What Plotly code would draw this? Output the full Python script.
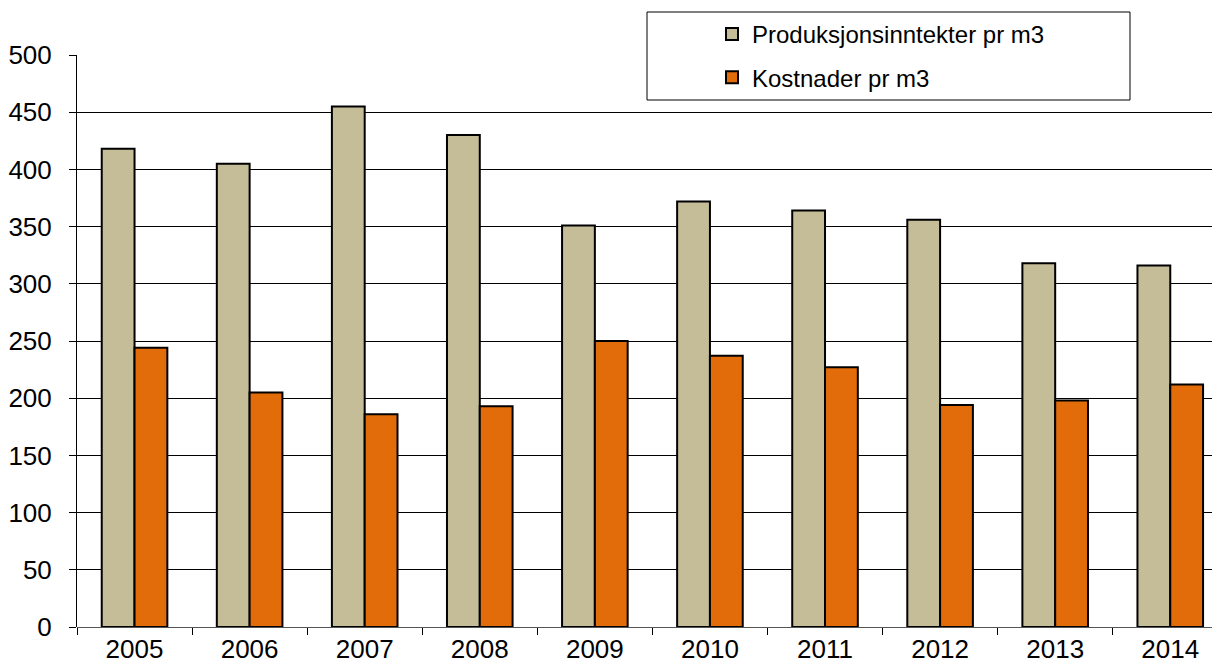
import plotly.graph_objects as go

years = ["2005", "2006", "2007", "2008", "2009", "2010", "2011", "2012", "2013", "2014"]
inntekter = [418, 405, 455, 430, 351, 372, 364, 356, 318, 316]
kostnader = [244, 205, 186, 193, 250, 237, 227, 194, 198, 212]
y_ticks = [0, 50, 100, 150, 200, 250, 300, 350, 400, 450, 500]

fig = go.Figure()
fig.add_trace(go.Bar(
    x=years, y=inntekter, name="Produksjonsinntekter pr m3",
    marker=dict(color="#C4BD97", line=dict(color="black", width=2)),
    legendgroup="a",
))
fig.add_trace(go.Bar(
    x=years, y=kostnader, name="Kostnader pr m3",
    marker=dict(color="#E36C0A", line=dict(color="black", width=2)),
    legendgroup="b",
))

OFF = 8  # default page body margin
W, H = 1220 - OFF, 670 - OFF
L, T = 77 - OFF, 55 - OFF
bottom_px = 627 - OFF
B = H - bottom_px
plot_w = W - L
plot_h = H - T - B
cat_w = 115.08


def px_y(py):
    return (bottom_px - (py - OFF)) / plot_h


def px_x(px):
    return (px - OFF - L) / plot_w


fig.update_layout(
    width=W, height=H,
    margin=dict(l=L, r=0, t=T, b=B, autoexpand=False),
    paper_bgcolor="white", plot_bgcolor="white",
    barmode="group", bargap=0.43, bargroupgap=0,
    font=dict(family="Liberation Sans, Arial, sans-serif", size=26, color="black"),
    showlegend=True,
    legend=dict(
        x=px_x(712), xanchor="left",
        y=px_y(12), yanchor="top",
        bgcolor="rgba(0,0,0,0)", borderwidth=0,
        font=dict(size=24), tracegroupgap=9,
        itemwidth=30,
    ),
    shapes=[dict(
        type="rect", xref="paper", yref="paper",
        x0=px_x(647), x1=px_x(1130),
        y0=px_y(100), y1=px_y(12),
        line=dict(color="black", width=1), fillcolor="white", layer="above",
    )],
)
fig.update_xaxes(
    range=[-0.5, -0.5 + plot_w / cat_w], automargin=False,
    tickson="boundaries", ticks="outside", ticklen=7, tickcolor="black",
    showline=False, showgrid=False, ticklabelstandoff=4,
)
fig.update_yaxes(
    range=[0, 500], tickvals=y_ticks, automargin=False,
    showgrid=True, gridcolor="black", gridwidth=1,
    showline=True, linecolor="black", linewidth=1,
    ticks="outside", ticklen=7, tickcolor="black", ticklabelstandoff=12,
    zeroline=True, zerolinecolor="#555", zerolinewidth=1,
)
fig.write_html("out.html")
